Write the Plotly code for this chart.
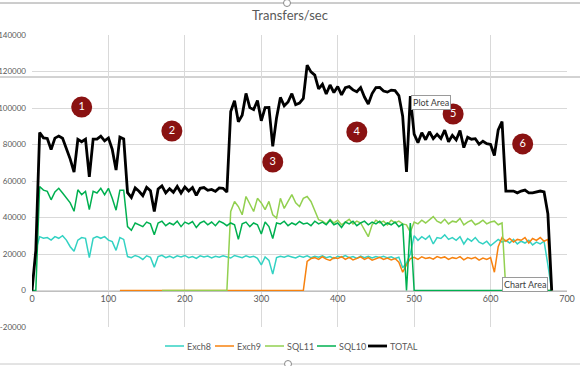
import plotly.graph_objects as go

# ---------------- data ----------------
X = list(range(0, 685, 5))  # sample positions 0..680

EXCH8 = [
    0, 22000, 29500, 28600, 29000, 27600, 29500, 28600, 30000, 27600,          # x0-45
    24000, 21500, 27600, 29000, 28600, 18000, 28600, 29500, 28600, 29500,      # x50-95
    27600, 26800, 22000, 29000, 28000, 18600, 18000, 19200, 18400, 17000,      # x100-145
    19000, 18200, 12800, 18600, 19300, 18000, 18800, 17800, 19000, 18400,      # x150-195
    19200, 18000, 18600, 17600, 19000, 18400, 18900, 17900, 18800, 18200,      # x200-245
    19000, 18400, 17800, 19200, 18500, 18000, 19000, 18200, 18800, 17600,      # x250-295
    14000, 18400, 16500, 9000, 18000, 18800, 18200, 19000, 18400, 17800,       # x300-345
    18900, 18300, 19000, 18000, 18700, 18200, 19000, 18000, 18600, 17500,      # x350-395
    18800, 18200, 19100, 18000, 18600, 17600, 18800, 18000, 18700, 17800,      # x400-445
    18600, 18100, 18800, 17900, 18500, 17500, 18300, 12500, 15000, 20000,      # x450-495
    30000, 27500, 29500, 28000, 30000, 25500, 29000, 28500, 30500, 28000,      # x500-545
    29000, 27500, 29500, 25500, 28500, 27000, 29000, 26500, 25500, 27000,      # x550-595
    24500, 26000, 28000, 26500, 27500, 26000, 28000, 25500, 27000, 26000,      # x600-645
    27500, 25000, 26500, 25500, 27000, 14000, 0,                               # x650-680
]

EXCH9 = [None] * 23 + [0] * 49 + [
    16000, 17500, 18000, 17000, 18500, 17200, 16500, 18000, 17500, 18500,      # x360-405
    17000, 18200, 16800, 17800, 18400, 17000, 18000, 16600, 17600, 18200,      # x410-455
    17000, 17800, 16800, 17500, 15500, 10000, 14000, 17500, 18200, 17000,      # x460-505
    18500, 17600, 18000, 17200, 18600, 17800, 18400, 17000, 18000, 17500,      # x510-555
    18600, 16800, 18000, 17400, 18200, 16600, 17800, 17000, 18000, 10000,      # x560-605
    24000, 29000, 27000, 28500, 26500, 28000, 27500, 29000, 26000, 28500,      # x610-655
    27500, 29000, 27000, 28000, 0,                                             # x660-680
]

SQL11 = [None] * 34 + [0] * 18 + [
    43300, 48800, 46000, 41500, 51500, 47000, 43300, 50500, 48000, 44300,      # x260-305
    48800, 41500, 39700, 50500, 45000, 48800, 52500, 48000, 46000, 50500,      # x310-355
    51500, 48800, 43300, 38800,                                                # x360-375
    38000, 36500, 39000, 37000, 38500, 36000, 37500, 39000, 36500, 38000,      # x380-425
    37000, 33000, 29500, 36000, 38500, 37000, 38000, 36000, 38500, 37000,      # x430-475
    38000, 36500,                                                              # x480-485
    36000, 32000, 37500, 36500, 38500, 37000, 39000, 40500, 38000, 37000,      # x490-535
    39000, 36500, 38000, 37500, 39500, 36000, 37500, 38500, 36000, 37000,      # x540-585
    38500, 36500, 37500, 38000, 36000, 37000,                                  # x590-615
] + [0] * 13

SQL10 = [0, 0] + [
    57000, 55000, 54300, 49700, 54000, 56000, 53400, 50500, 48000, 43400,      # x10-55
    55200, 52500, 54300, 44300, 54300, 53400, 56000, 52500, 56000, 50500,      # x60-105
    44000, 55000, 55000, 35000,                                                # x110-125
    33000, 37000, 36000, 35000, 37500, 36500, 30500, 37000, 38000, 35500,      # x130-175
    37000, 36000, 38000, 35000, 37500, 36500, 37800, 34500, 37000, 38000,      # x180-225
    36000, 37500, 35500, 38000, 37000, 35500, 37000, 36000, 28000, 36500,      # x230-275
    37500, 35000, 37000, 36000, 31000, 37500, 35000, 28500, 37000, 36500,      # x280-325
    38000, 35500, 37000, 36000, 37800, 36500, 37000, 35500, 38000, 36500,      # x330-375
    37500, 36000, 38500, 36000, 37000, 34500, 37500, 36500, 38000, 35500,      # x380-425
    37000, 38000, 36000, 37500, 36500, 38000, 35500, 37000, 36000, 37500,      # x430-475
    35000, 36500, 0, 37000,                                                    # x480-495
] + [0] * 37

TOTAL = [
    0, 22000, 86500, 83600, 83300, 77300, 83500, 84600, 83400, 78100,          # x0-45
    72000, 64900, 82800, 81500, 82900, 62300, 82900, 82900, 84600, 82000,      # x50-95
    83600, 77300, 66000, 84000, 83000, 53600, 51000, 56200, 54400, 52000,      # x100-145
    56500, 54700, 43300, 55600, 57300, 53500, 55800, 53800, 57000, 53400,      # x150-195
    56700, 54500, 56400, 52100, 56000, 56400, 54900, 55400, 54300, 56200,      # x200-245
    56000, 53900, 98100, 104000, 92500, 96000, 108000, 100200, 99100, 104100,  # x250-295
    93000, 100200, 100300, 79000, 94700, 105800, 101200, 103300, 107900, 101800,  # x300-345
    102700, 105300, 123500, 119800, 118000, 110500, 113000, 107700, 112600, 108500,  # x350-395
    111800, 107200, 111100, 111700, 109900, 108900, 111200, 106000, 102200, 107900,  # x400-445
    111200, 111300, 109300, 108700, 109800, 109500, 106800, 95500, 65000, 106500,  # x450-495
    85700, 81000, 86500, 82600, 87000, 83200, 85600, 83300, 87900, 81500,      # x500-545
    85000, 82500, 87600, 78300, 84000, 82900, 83200, 80100, 81800, 80500,      # x550-595
    80000, 74000, 88000, 92500, 54500, 54500, 54500, 53500, 54500, 55000,      # x600-645
    53500, 53500, 54000, 54500, 54000, 42000, 0,                               # x650-680
]

SERIES_NAMES = ["Exch8", "Exch9", "SQL11", "SQL10", "TOTAL"]
SERIES_VALUES = [EXCH8, EXCH9, SQL11, SQL10, TOTAL]

X_TICKS = [0, 100, 200, 300, 400, 500, 600, 700]
X_TICK_LABELS = ["0", "100", "200", "300", "400", "500", "600", "700"]
Y_TICKS = [-20000, 0, 20000, 40000, 60000, 80000, 100000, 120000, 140000]
Y_TICK_LABELS = ["-20000", "0", "20000", "40000", "60000", "80000", "100000", "120000", "140000"]

# numbered call-out circles (data coordinates)
CIRCLE_LABELS = ["1", "2", "3", "4", "5", "6"]
CIRCLE_X = [65, 183, 315, 425, 551, 642]
CIRCLE_Y = [100500, 87400, 70400, 86900, 96700, 80300]

TITLE = "Transfers/sec"

# ---------------- styling / layout ----------------
COLORS = ["#33D2C3", "#F7820F", "#92D050", "#00B050", "#000000"]
WIDTHS = [1.5, 1.5, 1.5, 1.5, 2.8]
FONT = "Lato, 'Open Sans', sans-serif"
TXT = "#595959"

W, H = 580, 366
ML, MR, MT, MB = 32, 13, 35, 39
PW, PH = W - ML - MR, H - MT - MB


def pxx(px):
    return (px - ML) / PW


def pxy(py):
    return (H - MB - py) / PH


fig = go.Figure()
for name, vals, col, wd in zip(SERIES_NAMES, SERIES_VALUES, COLORS, WIDTHS):
    fig.add_trace(go.Scatter(x=X, y=vals, mode="lines", name=name,
                             line=dict(color=col, width=wd),
                             showlegend=False, connectgaps=False))

fig.add_trace(go.Scatter(x=CIRCLE_X, y=CIRCLE_Y, mode="markers+text",
                         text=CIRCLE_LABELS, textposition="middle center",
                         marker=dict(size=21, color="#8A1212", line=dict(width=0)),
                         textfont=dict(color="white", size=11, family=FONT),
                         showlegend=False, cliponaxis=False))

shapes = []
annotations = []

# custom legend
LEG_PX = [165, 215, 265, 317, 368]
LEG_Y = 346
for lx, name, col, wd in zip(LEG_PX, SERIES_NAMES, COLORS, WIDTHS):
    shapes.append(dict(type="line", xref="paper", yref="paper",
                       x0=pxx(lx), x1=pxx(lx + 19), y0=pxy(LEG_Y), y1=pxy(LEG_Y),
                       line=dict(color=col, width=wd)))
    annotations.append(dict(xref="paper", yref="paper", x=pxx(lx + 20), y=pxy(LEG_Y),
                            text=name, showarrow=False, xanchor="left", yanchor="middle",
                            font=dict(size=9, color=TXT, family=FONT)))

# Excel selection frame lines and handles
shapes.append(dict(type="line", xref="paper", yref="paper", x0=pxx(0), x1=pxx(580),
                   y0=pxy(3), y1=pxy(3), line=dict(color="#9A9A9A", width=1)))
shapes.append(dict(type="line", xref="paper", yref="paper", x0=pxx(0), x1=pxx(580),
                   y0=pxy(77), y1=pxy(77), line=dict(color="#A6A6A6", width=1), layer="below"))
shapes.append(dict(type="line", xref="paper", yref="paper", x0=pxx(0), x1=pxx(580),
                   y0=pxy(364), y1=pxy(364), line=dict(color="#C8C8C8", width=1)))
for hx, hy in [(287, 3), (288, 364)]:
    shapes.append(dict(type="circle", xref="paper", yref="paper",
                       x0=pxx(hx - 3.5), x1=pxx(hx + 3.5), y0=pxy(hy + 3.5), y1=pxy(hy - 3.5),
                       fillcolor="white", line=dict(color="#8A8A8A", width=1)))

# tooltips
for text, cx, cy in [("Plot Area", 430.5, 102.5), ("Chart Area", 524.5, 284)]:
    annotations.append(dict(xref="paper", yref="paper", x=pxx(cx), y=pxy(cy), text=text,
                            showarrow=False, xanchor="center", yanchor="middle",
                            bgcolor="white", bordercolor="#9A9A9A", borderwidth=1, borderpad=1,
                            font=dict(size=9, color="#404040", family=FONT)))

fig.update_layout(
    width=W, height=H,
    margin=dict(l=ML, r=MR, t=MT, b=MB, autoexpand=False),
    paper_bgcolor="white", plot_bgcolor="white",
    title=dict(text=TITLE, x=0.5, xref="container", xanchor="center",
               y=1 - 15 / H, yref="container", yanchor="middle",
               font=dict(size=13, color=TXT, family=FONT)),
    showlegend=False,
    hovermode=False,
    shapes=shapes,
    annotations=annotations,
    xaxis=dict(range=[0, 700], tickvals=X_TICKS, ticktext=X_TICK_LABELS,
               showgrid=True, gridcolor="#D9D9D9", gridwidth=1, zeroline=False,
               anchor="free", position=20000 / 160000,
               showline=True, linecolor="#BFBFBF", linewidth=1, ticks="",
               tickfont=dict(size=9, color=TXT, family=FONT), automargin=False),
    yaxis=dict(range=[-20000, 140000], tickvals=Y_TICKS, ticktext=Y_TICK_LABELS,
               showgrid=True, gridcolor="#D9D9D9", gridwidth=1, zeroline=False,
               showline=False, ticks="", ticklabelstandoff=5,
               tickfont=dict(size=8, color=TXT, family=FONT), automargin=False),
)

fig.write_html("out.html",
               config={"displayModeBar": False, "staticPlot": True},
               post_script="document.body.style.margin='0';document.body.style.overflow='hidden';")
